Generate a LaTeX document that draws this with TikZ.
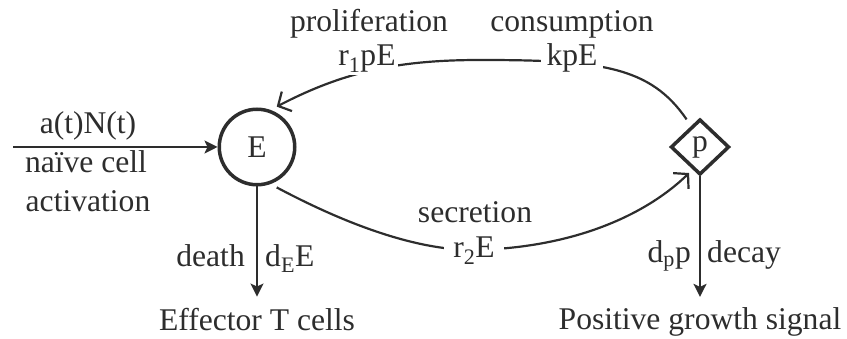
\documentclass[tikz,border=0pt]{standalone}
\usepackage{fontspec}
\setmainfont{Liberation Serif}
\usetikzlibrary{shapes.geometric,arrows.meta}
\definecolor{ink}{RGB}{45,45,45}
\begin{document}
\begin{tikzpicture}[x=1pt,y=1pt,
  every node/.style={font=\fontsize{31.6}{37}\selectfont, text=ink},
  lbl/.style={inner sep=0pt},
  onl/.style={fill=white, inner xsep=5pt, inner ysep=2pt},
  flow/.style={draw=ink, line width=2pt, -{Stealth[length=13pt,width=13pt,inset=3pt]}},
  loopc/.style={draw=ink, line width=2.2pt, -{Straight Barb[length=10pt,width=22pt]}},
  state/.style={circle, draw=ink, line width=3.5pt, minimum size=75.5pt, inner sep=0pt},
  signal/.style={diamond, draw=ink, line width=3.5pt, minimum width=58.5pt, minimum height=55.5pt, inner sep=0pt},
]
\useasboundingbox (0,0) rectangle (847,339);
\node[state] (E) at (257,192) {E};
\node[signal] (p) at (700,192) {p};
\node[lbl, anchor=base, inner ysep=12pt] (eff) at (257,8) {Effector T cells};
\node[lbl, anchor=base, inner ysep=11pt] (pos) at (700,9) {Positive growth signal};
\coordinate (src) at (13,192);

\draw[flow] (src) -- (E);
\draw[flow] (E) -- (eff);
\draw[flow] (p) -- (pos);

\draw[loopc, shorten <=8pt, shorten >=7pt] (p.113) .. controls (650,273) and (600,279) .. (480,279)
   .. controls (400,279) and (345,268) .. (E.70);
\draw[loopc, shorten <=7pt, shorten >=5pt] (E.-70) .. controls (336,120) and (410,89) .. (473,89)
   .. controls (580,91) and (650,128) .. (p.-108);

\node[lbl, anchor=base] (lprol) at (369,307) {proliferation};
\node[lbl, anchor=base] (lcons) at (572,307) {consumption};
\node[onl, anchor=base, inner xsep=2pt] (rprol) at (367,273) {r\textsubscript{1}pE};
\node[onl, anchor=base, inner xsep=6pt] (rcons) at (572,273) {kpE};
\node[lbl, anchor=base] (lsec) at (475,116) {secretion};
\node[onl, anchor=base, inner xsep=9pt] (rsec) at (474,81) {r\textsubscript{2}E};

\node[lbl, anchor=base] (rin) at (88,205) {a(t)N(t)};
\node[lbl, anchor=base] (lin1) at (86,166) {naïve cell};
\node[lbl, anchor=base] (lin2) at (88,127) {activation};

\node[lbl, anchor=base east] (ldeath) at (245,72) {death};
\node[lbl, anchor=base west] (rdeath) at (265,72) {d\textsubscript{E}E};
\node[lbl, anchor=base east] (rdecay) at (691,76) {d\textsubscript{p}p};
\node[lbl, anchor=base west] (ldecay) at (707,76) {decay};
\end{tikzpicture}
\end{document}
